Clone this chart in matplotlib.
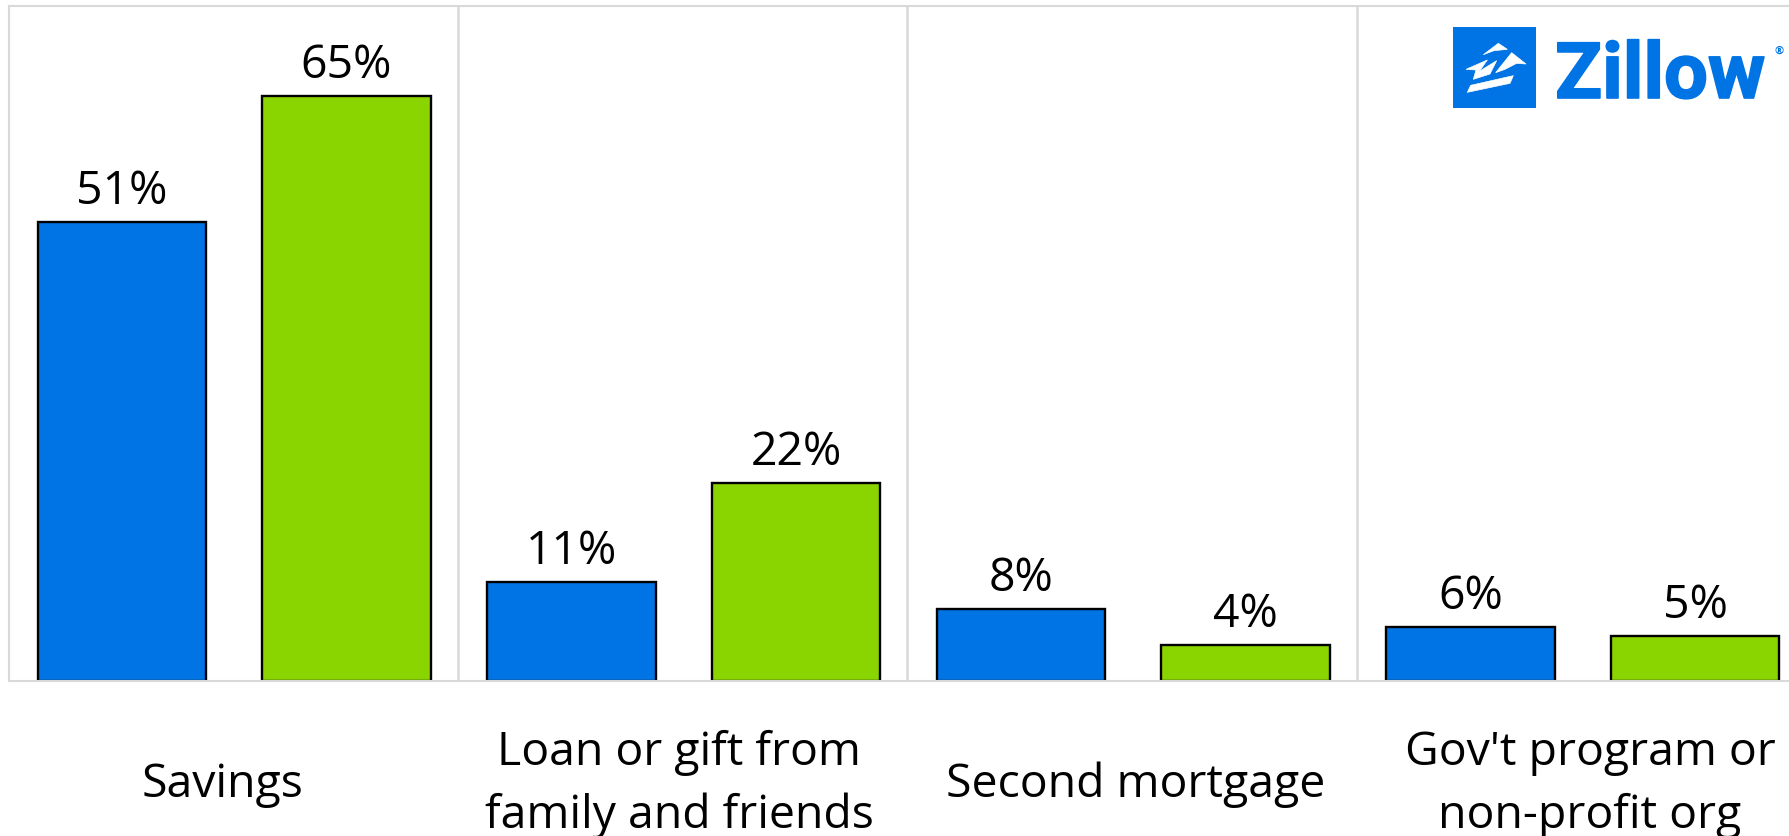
import matplotlib
matplotlib.use("Agg")
import matplotlib.pyplot as plt
import matplotlib.patheffects as pe
from matplotlib.patches import Polygon, Rectangle

plt.rcParams["font.family"] = ["Open Sans", "DejaVu Sans"]

# down payment sources, share of buyers in percent
categories = ["Savings", "Loan or gift from\nfamily and friends", "Second mortgage", "Gov't program or\nnon-profit org"]
blue_values = [51, 11, 8, 6]
green_values = [65, 22, 4, 5]

BLUE = "#0074E4"
GREEN = "#8AD500"
GRID = "#D9D9D9"
WIDTH, HEIGHT = 1789, 837

fig = plt.figure(figsize=(WIDTH / 100, HEIGHT / 100), dpi=100, facecolor="white")

# plot area runs past the right edge of the figure, same as the cropped panel
panel_w = 449.5
ax = fig.add_axes([8.5 / WIDTH, (HEIGHT - 681.5) / HEIGHT, 4 * panel_w / WIDTH, 675 / HEIGHT])
ax.set_xlim(0, 4)
ax.set_ylim(0, 75)
ax.set_xticks([])
ax.set_yticks([])

for i, (b, g) in enumerate(zip(blue_values, green_values)):
    for x, val, col in [(i + 0.2525, b, BLUE), (i + 0.752, g, GREEN)]:
        ax.bar(x, val, width=0.375, color=col, edgecolor="black", linewidth=1.7, zorder=2)
        ax.annotate(f"{val}%", (x, val), xytext=(0, 13), textcoords="offset points",
                    ha="center", va="baseline", fontsize=33.4, color="black", zorder=4)

for x in [1, 2, 3]:
    ax.axvline(x, color=GRID, linewidth=1.8, zorder=1)
for side, spine in ax.spines.items():
    spine.set_color(GRID)
    spine.set_linewidth(1.5)
    spine.set_zorder(5)

# page-level layer in pixels for the category captions and the logo
page = fig.add_axes([0, 0, 1, 1], facecolor="none")
page.set_xlim(0, WIDTH)
page.set_ylim(HEIGHT, 0)
page.axis("off")

label_centers = [223, 679, 1136, 1590]
for cx, name in zip(label_centers, categories):
    lines = name.split("\n")
    baselines = [765, 828] if len(lines) == 2 else [797]
    for line, y in zip(lines, baselines):
        page.text(cx, y, line, ha="center", va="baseline", fontsize=33.4, color="black")

# Zillow mark
page.add_patch(Rectangle((1453, 28), 83, 81, facecolor=BLUE, edgecolor="none"))
icon_shapes = [
    [(100, 92), (145, 58), (172, 76), (132, 80)],
    [(137, 146), (185, 86), (228, 120), (200, 118), (165, 136)],
    [(48, 136), (112, 108), (88, 142), (140, 110), (120, 150), (70, 166), (78, 138)],
    [(52, 205), (62, 184), (190, 155), (180, 178)],
]
for shape in icon_shapes:
    pts = [(1450 + x / 3, 25 + y / 3) for x, y in shape]
    page.add_patch(Polygon(pts, closed=True, facecolor="white", edgecolor="white", linewidth=0.5))

page.text(1555, 99, "Zillow", ha="left", va="baseline", fontsize=56, fontweight="bold", color=BLUE,
          family="Roboto", path_effects=[pe.withStroke(linewidth=1.2, foreground=BLUE)])
page.text(1779, 51, "®", ha="center", va="center", fontsize=8, fontweight="bold", color=BLUE)

fig.savefig("out.png", dpi=100)
